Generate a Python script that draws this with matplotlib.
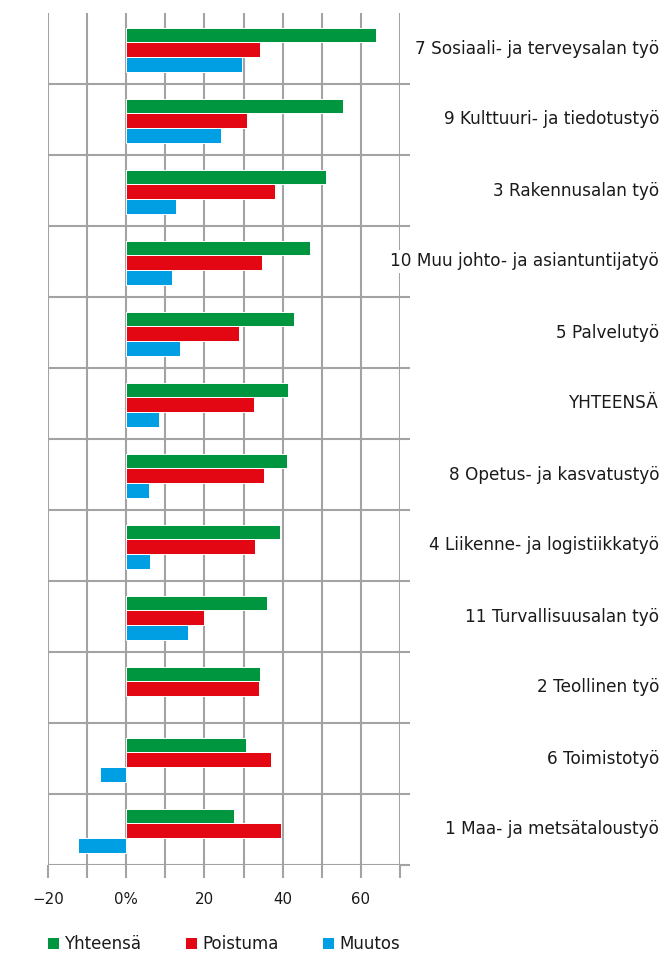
"""Ammattiryhmittäinen työvoiman tarve: yhteensä, poistuma ja muutos (%)."""

import matplotlib

matplotlib.use("Agg")
import matplotlib.pyplot as plt  # noqa: E402
import numpy as np  # noqa: E402

plt.rcParams["font.family"] = ["DejaVu Sans"]

categories = [
    "7 Sosiaali- ja terveysalan työ",
    "9 Kulttuuri- ja tiedotustyö",
    "3 Rakennusalan työ",
    "10 Muu johto- ja asiantuntijatyö",
    "5 Palvelutyö",
    "YHTEENSÄ",
    "8 Opetus- ja kasvatustyö",
    "4 Liikenne- ja logistiikkatyö",
    "11 Turvallisuusalan työ",
    "2 Teollinen työ",
    "6 Toimistotyö",
    "1 Maa- ja metsätaloustyö",
]
yhteensa = [63.9, 55.4, 51.1, 46.9, 42.9, 41.4, 41.2, 39.3, 35.9, 34.2, 30.6, 27.6]
poistuma = [34.2, 30.8, 38.0, 34.8, 28.9, 32.6, 35.3, 32.9, 20.0, 34.0, 36.9, 39.6]
muutos = [29.6, 24.2, 12.8, 11.7, 13.8, 8.5, 5.9, 6.0, 15.7, 0.0, -6.6, -12.4]

xticks = [-20, -10, 0, 10, 20, 30, 40, 50, 60, 70]
xtick_labels = ["\u221220", "", "0%", "", "20", "", "40", "", "60", ""]

GREEN = "#009640"
RED = "#e30613"
BLUE = "#009fe3"
GRID = "#a3a3a3"
TEXT = "#1a1a1a"

fig = plt.figure(figsize=(6.64, 9.56), dpi=100)
ax = fig.add_axes([48 / 664, 1 - 865 / 956, 352 / 664, 852 / 956])

n = len(categories)
y = np.arange(n)[::-1].astype(float)
h = 0.21


def _edges(values):
    # nollapalkille ei reunaviivaa, ettei ruudukon 0-viiva katkea
    return [0 if v == 0 else 0.7 for v in values]


kw = dict(height=h, edgecolor="white", zorder=3)
ax.barh(y + h - 0.02, yhteensa, color=GREEN, label="Yhteensä",
        linewidth=_edges(yhteensa), **kw)
ax.barh(y - 0.02, poistuma, color=RED, label="Poistuma",
        linewidth=_edges(poistuma), **kw)
ax.barh(y - h - 0.02, muutos, color=BLUE, label="Muutos",
        linewidth=_edges(muutos), **kw)

ax.set_xlim(-20, 70)
ax.set_ylim(-0.5, n - 0.5)
ax.set_xticks(xticks)
ax.set_xticklabels(xtick_labels)

seps = np.arange(-0.5, n - 1, 1.0)
ax.set_yticks(seps)
ax.yaxis.tick_right()
ax.tick_params(axis="y", direction="out", length=7.5, width=1.5, color=GRID,
               labelright=False, labelleft=False)
ax.tick_params(axis="x", direction="out", length=9.2, width=1.5, color=GRID,
               pad=10, labelsize=10.8, labelcolor=TEXT)

for s in ax.spines.values():
    s.set_visible(False)
ax.grid(True, color=GRID, linewidth=1.5, zorder=0)
ax.set_axisbelow(True)

for yi, label in zip(y, categories):
    ax.text((659 - 48) / 352, yi, label, transform=ax.get_yaxis_transform(),
            ha="right", va="center", fontsize=12.2, color=TEXT, zorder=5,
            clip_on=False,
            bbox=dict(facecolor="white", edgecolor="none", pad=1.5))

handles, labels = ax.get_legend_handles_labels()
fig.legend(handles, labels, loc="center left", bbox_to_anchor=(47 / 664, 1 - 944 / 956),
           ncol=3, frameon=False, fontsize=12, handlelength=0.7, handleheight=0.7,
           handletextpad=0.35, columnspacing=2.6, borderpad=0, borderaxespad=0,
           labelcolor=TEXT)

fig.savefig("out.png", dpi=100)
